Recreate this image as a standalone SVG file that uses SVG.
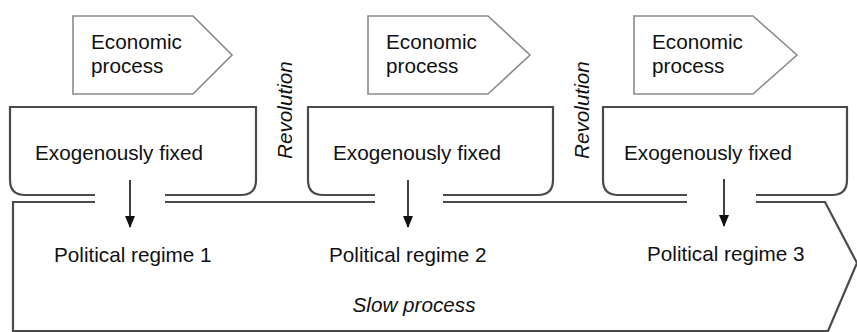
<svg xmlns="http://www.w3.org/2000/svg" width="857" height="332" viewBox="0 0 857 332">
<defs>
<style>
.eco{fill:#fff;stroke:#8a8a8a;stroke-width:1.6;stroke-linejoin:miter}
.exo{fill:none;stroke:#4a4a4a;stroke-width:2.2}
.slow{fill:none;stroke:#4a4a4a;stroke-width:2.2}
.t{font-family:"Liberation Sans",Arial,Helvetica,sans-serif;font-size:20.7px;fill:#111}
.i{font-style:italic}
.arr{stroke:#111;stroke-width:1.6;fill:none}
</style>
<marker id="ah" viewBox="0 0 12 10" refX="11" refY="5" markerWidth="12" markerHeight="10" markerUnits="userSpaceOnUse" orient="auto">
<path d="M0,0 L12,5 L0,10 Z" fill="#111"/>
</marker>
</defs>
<g id="slow-process">
<path class="slow" d="M95,202 H13 V331 H828 L857,263 L825,202 H756"/>
<line class="slow" x1="165" y1="202" x2="375" y2="202"/>
<line class="slow" x1="443" y1="202" x2="687" y2="202"/>
<text class="t i" x="414" y="312" text-anchor="middle">Slow process</text>
</g>
<g id="economic-1">
<path class="eco" d="M73,16 H193 L232,55 L193,94 H73 Z"/>
<text class="t" x="91" y="49">Economic</text>
<text class="t" x="91" y="73">process</text>
</g>
<g id="economic-2">
<path class="eco" d="M368,16 H488 L530,55 L488,94 H368 Z"/>
<text class="t" x="386" y="49">Economic</text>
<text class="t" x="386" y="73">process</text>
</g>
<g id="economic-3">
<path class="eco" d="M634,16 H753 L797,55 L753,94 H634 Z"/>
<text class="t" x="652" y="49">Economic</text>
<text class="t" x="652" y="73">process</text>
</g>
<g id="exo-1">
<path class="exo" d="M95,195 H25 Q10,195 10,180 V107 H256 V180 Q256,195 241,195 H165"/>
<text class="t" x="35" y="160">Exogenously fixed</text>
</g>
<g id="exo-2">
<path class="exo" d="M375,195 H323 Q308,195 308,180 V107 H553 V180 Q553,195 538,195 H443"/>
<text class="t" x="333" y="160">Exogenously fixed</text>
</g>
<g id="exo-3">
<path class="exo" d="M687,195 H618 Q603,195 603,180 V107 H847 V180 Q847,195 832,195 H756"/>
<text class="t" x="624" y="160">Exogenously fixed</text>
</g>
<g id="regime-1"><text class="t" x="54" y="262">Political regime 1</text></g>
<g id="regime-2"><text class="t" x="329" y="262">Political regime 2</text></g>
<g id="regime-3"><text class="t" x="647" y="261">Political regime 3</text></g>
<g id="revolution-1"><text class="t i" transform="translate(292,159) rotate(-90)">Revolution</text></g>
<g id="revolution-2"><text class="t i" transform="translate(589,159) rotate(-90)">Revolution</text></g>
<g id="connectors">
<line class="arr" x1="130" y1="180" x2="130" y2="227" marker-end="url(#ah)"/>
<line class="arr" x1="408" y1="180" x2="408" y2="227" marker-end="url(#ah)"/>
<line class="arr" x1="724" y1="179" x2="724" y2="226" marker-end="url(#ah)"/>
</g>
</svg>
